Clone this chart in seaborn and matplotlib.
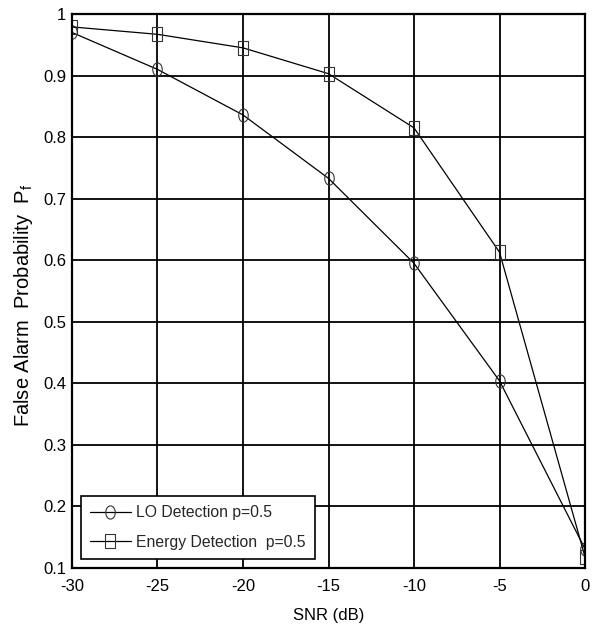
import matplotlib
matplotlib.use("Agg")
import matplotlib.pyplot as plt
import seaborn as sns
import pandas as pd
from matplotlib.path import Path
from matplotlib.transforms import Affine2D

snr = [-30, -25, -20, -15, -10, -5, 0]
lo_pf = [0.970, 0.910, 0.836, 0.733, 0.595, 0.404, 0.131]
energy_pf = [0.979, 0.967, 0.945, 0.903, 0.815, 0.613, 0.118]
labels = ["LO Detection p=0.5", "Energy Detection  p=0.5"]
xticks = [-30, -25, -20, -15, -10, -5, 0]
yticks = [0.1, 0.2, 0.3, 0.4, 0.5, 0.6, 0.7, 0.8, 0.9, 1]

sns.set_theme(style="white")
plt.rcParams['font.family'] = ['Liberation Sans', 'DejaVu Sans']
plt.rcParams['mathtext.fontset'] = 'custom'
plt.rcParams['mathtext.rm'] = 'Liberation Sans'

# tall (vertically stretched) markers as in the reference
ellipse = Path.unit_circle().transformed(Affine2D().scale(0.72, 1.0))
rect = Path([(-0.35, -0.5), (0.35, -0.5), (0.35, 0.5), (-0.35, 0.5), (-0.35, -0.5)],
            [Path.MOVETO, Path.LINETO, Path.LINETO, Path.LINETO, Path.CLOSEPOLY])

fig = plt.figure(figsize=(5.92, 6.25), dpi=100)
ax = fig.add_axes([0.1216, 0.0912, 0.8666, 0.8864])

df_lo = pd.DataFrame({"snr": snr, "pf": lo_pf})
df_en = pd.DataFrame({"snr": snr, "pf": energy_pf})
sns.lineplot(data=df_lo, x="snr", y="pf", ax=ax, color="black", marker=ellipse,
             markersize=9.5, mfc="none", mec="#333333", mew=0.8, lw=0.9, label=labels[0])
sns.lineplot(data=df_en, x="snr", y="pf", ax=ax, color="black", marker=rect,
             markersize=9.5, mfc="none", mec="#333333", mew=0.8, lw=0.9, label=labels[1])

ax.set_xlim(-30, 0)
ax.set_ylim(0.1, 1)
ax.set_xticks(xticks)
ax.set_xticklabels([str(t) for t in xticks])
ax.set_yticks(yticks)
ax.set_yticklabels(["0.1", "0.2", "0.3", "0.4", "0.5", "0.6", "0.7", "0.8", "0.9", "1"])
ax.grid(True, color="black", linewidth=1.3, linestyle="-")
ax.set_axisbelow(True)
for s in ax.spines.values():
    s.set_color("black")
    s.set_linewidth(1.6)
ax.tick_params(axis="both", labelsize=12, colors="black", length=0)
ax.tick_params(axis="x", pad=8)
ax.tick_params(axis="y", pad=4)
ax.set_xlabel("SNR (dB)", fontsize=12, color="black", labelpad=10)
ax.set_ylabel(r"False Alarm  Probability  P$_\mathregular{f}$", fontsize=14.5, color="black")
ax.yaxis.set_label_coords(-0.072, 0.475)

leg = ax.legend(loc="lower left", prop={'size': 11.3}, frameon=True,
                fancybox=False, edgecolor="black", framealpha=1, borderaxespad=0.55,
                handlelength=2.6, handletextpad=0.35, borderpad=0.6, labelspacing=0.95)
leg.get_frame().set_linewidth(1.2)

fig.savefig("out.png", dpi=100)
